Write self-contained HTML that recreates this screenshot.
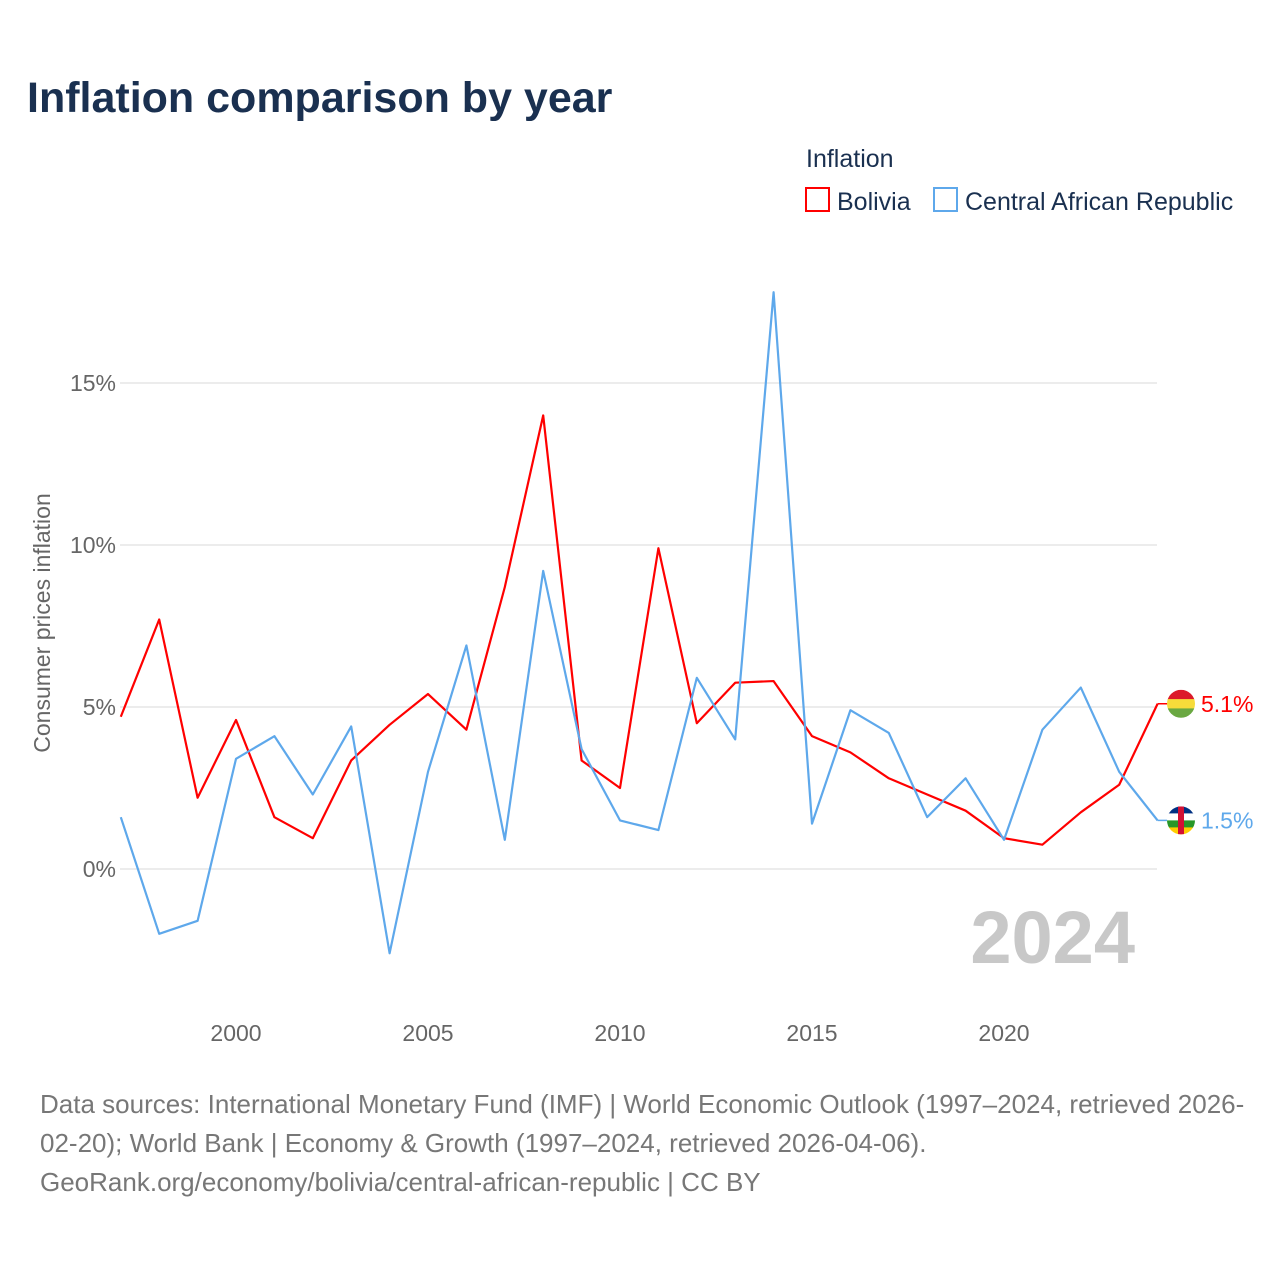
<!DOCTYPE html>
<html><head><meta charset="utf-8"><style>
body{margin:0;background:#fff;font-family:"Liberation Sans",sans-serif;}
</style></head><body>
<svg id="chart" width="1280" height="1280" xmlns="http://www.w3.org/2000/svg" font-family="Liberation Sans, sans-serif">
<rect width="1280" height="1280" fill="#fff"/>
<text x="27" y="112" font-size="43" font-weight="bold" fill="#1a3050">Inflation comparison by year</text>
<text x="806" y="167" font-size="25" fill="#1a3050">Inflation</text>
<g><rect x="806" y="188" width="23" height="23" fill="none" stroke="#f00" stroke-width="2"/><text x="837" y="210" font-size="25" fill="#1a3050">Bolivia</text></g>
<g><rect x="934" y="188" width="23" height="23" fill="none" stroke="#5ea8eb" stroke-width="2"/><text x="965" y="210" font-size="25" fill="#1a3050">Central African Republic</text></g>
<text transform="translate(50,623) rotate(-90)" text-anchor="middle" font-size="23" fill="#666">Consumer prices inflation</text>
<g id="grid"></g><g id="series"></g>
<text x="1135" y="963" text-anchor="end" font-size="74" font-weight="bold" fill="#c8c8c8">2024</text>
<text font-size="26" fill="#777"><tspan x="40" y="1113">Data sources: International Monetary Fund (IMF) | World Economic Outlook (1997–2024, retrieved 2026-</tspan><tspan x="40" y="1152">02-20); World Bank | Economy &amp; Growth (1997–2024, retrieved 2026-04-06).</tspan><tspan x="40" y="1191">GeoRank.org/economy/bolivia/central-african-republic | CC BY</tspan></text>
</svg>
<script>
const years=[1997,1998,1999,2000,2001,2002,2003,2004,2005,2006,2007,2008,2009,2010,2011,2012,2013,2014,2015,2016,2017,2018,2019,2020,2021,2022,2023,2024];
const bolivia=[4.7,7.7,2.2,4.6,1.6,0.95,3.35,4.45,5.4,4.3,8.7,14.0,3.35,2.5,9.9,4.5,5.75,5.8,4.1,3.6,2.8,2.3,1.8,0.95,0.75,1.75,2.6,5.1];
const car=[1.6,-2.0,-1.6,3.4,4.1,2.3,4.4,-2.6,3.0,6.9,0.9,9.2,3.7,1.5,1.2,5.9,4.0,17.8,1.4,4.9,4.2,1.6,2.8,0.9,4.3,5.6,3.0,1.5];
const yTicks=[0,5,10,15];
const xTicks=[2000,2005,2010,2015,2020];
const NS="http://www.w3.org/2000/svg";
const x=v=>120.8+(v-1997)*38.4;
const y=v=>869-v*32.4;
function mk(t,a,p){const e=document.createElementNS(NS,t);for(const k in a)e.setAttribute(k,a[k]);p.appendChild(e);return e;}
const grid=document.getElementById('grid'),ser=document.getElementById('series');
yTicks.forEach(t=>{
 const l=mk('line',{x1:120,x2:1157,y1:y(t),y2:y(t),stroke:'#e6e6e6','stroke-width':1.5},grid);
 
 
 const tx=mk('text',{x:116,y:y(t)+8,'text-anchor':'end','font-size':23,fill:'#666'},grid);tx.textContent=t+'%';
 
 
});
xTicks.forEach(t=>{
 const tx=mk('text',{x:x(t),y:1041,'text-anchor':'middle','font-size':23,fill:'#666'},grid);tx.textContent=t;
 
 
});
function line(vals,color,name){
 const p=mk('polyline',{points:vals.map((v,i)=>x(years[i])+','+y(v)).join(' '),fill:'none',stroke:color,'stroke-width':2.2,'stroke-linejoin':'round'},ser);
 
 
 const last=vals[vals.length-1],ly=y(last),lx=x(years[years.length-1]);
 mk('line',{x1:lx,x2:lx+10,y1:ly,y2:ly,stroke:color,'stroke-width':1.5},ser);
 const tx=mk('text',{x:1201,y:ly+8,'font-size':23,fill:color},ser);tx.textContent=last.toFixed(1)+'%';
 
 
 return ly;
}
const by=line(bolivia,'#f00','bolivia-line');
const cy=line(car,'#5ea8eb','car-line');
function flag(cx,cy,stripes,id,extra){
 const g=mk('g',{},ser);
 
 
 const cp=mk('clipPath',{id:id+'c'},g);mk('circle',{cx:cx,cy:cy,r:14},cp);
 const gg=mk('g',{'clip-path':'url(#'+id+'c)'},g);
 const h=28/stripes.length;
 stripes.forEach((c,i)=>mk('rect',{x:cx-14,y:cy-14+i*h,width:28,height:h+0.5,fill:c},gg));
 if(extra)mk('rect',{x:cx-3,y:cy-14,width:6,height:28,fill:'#d21034'},gg);
}
flag(1181,by,['#dc1a2a','#f7dc3a','#6aa842'],'bolivia-flag',false);
flag(1181,cy,['#003082','#ffffff','#289728','#ffce00'],'car-flag',true);
</script>
</body></html>
